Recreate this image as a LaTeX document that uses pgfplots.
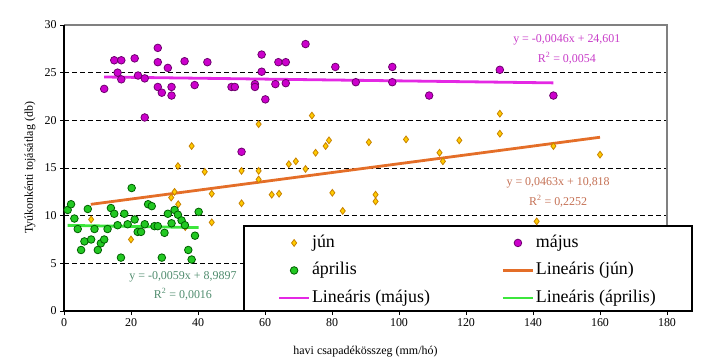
\documentclass[border=0pt]{standalone}
\usepackage{fontspec}
\setmainfont{Liberation Serif}
\usepackage{pgfplots}
\pgfplotsset{compat=1.18}
\definecolor{magfill}{RGB}{204,0,204}
\definecolor{magedge}{RGB}{110,0,110}
\definecolor{magline}{RGB}{228,40,228}
\definecolor{magtext}{RGB}{200,60,200}
\definecolor{junfill}{RGB}{255,204,0}
\definecolor{junedge}{RGB}{200,130,0}
\definecolor{junline}{RGB}{228,110,40}
\definecolor{juntext}{RGB}{196,112,84}
\definecolor{aprfill}{RGB}{34,200,34}
\definecolor{apredge}{RGB}{0,95,0}
\definecolor{aprline}{RGB}{60,230,60}
\definecolor{aprtext}{RGB}{80,140,110}
\begin{document}
\begin{tikzpicture}
\useasboundingbox (-64bp,-51bp) rectangle (639bp,311bp);
\begin{axis}[
  at={(0,0)}, anchor=south west,
  scale only axis, width=603bp, height=286bp,
  xmin=0, xmax=180, ymin=0, ymax=30,
  xtick={0,20,...,180}, ytick={0,5,...,30},
  tick align=outside, tick pos=left, major tick length=4bp,
  every tick/.style={black, line width=0.8bp},
  axis line style={draw=none},
  ymajorgrids, grid style={black, dash pattern=on 5bp off 3bp, line width=0.9bp},
  ticklabel style={font=\fontsize{12}{14}\selectfont},
  /pgf/number format/assume math mode=true,
  xlabel={havi csapadékösszeg (mm/hó)},
  ylabel={Tyúkonkénti tojásátlag (db)},
  every axis x label/.style={at={(axis description cs:0.5,0)}, yshift=-41bp, anchor=center, font=\fontsize{12}{14}\selectfont},
  every axis y label/.style={at={(axis description cs:0,0.5)}, xshift=-34bp, rotate=90, anchor=center, font=\fontsize{12}{14}\selectfont},
  clip=false,
  legend columns=2,
  legend cell align=left,
  legend style={at={(axis description cs:0.3541,0.271)}, anchor=north west,
    draw=none, fill=none, inner sep=0pt,
    font=\fontsize{18}{20}\selectfont,
    row sep=9bp,
    nodes={inner xsep=1.5bp, inner ysep=1bp, text height=12.5bp, text depth=4bp},
    /tikz/every even column/.append style={column sep=70bp}},
  legend image code/.code={\draw[mark repeat=2,mark phase=2,#1] plot coordinates {(0bp,0bp) (15bp,0bp) (30bp,0bp)};},
]
% trend lines (endpoints of the fitted lines)
\addplot[forget plot, junline, line width=2.8bp] coordinates {(8,11.188) (160,18.226)};
\addplot[forget plot, magline, line width=2.8bp] coordinates {(12,24.546) (146.1,23.929)};
\addplot[forget plot, aprline, line width=2.8bp] coordinates {(1.1,8.983) (40.2,8.752)};

\addplot[only marks, mark=diamond*, mark size=3.4bp, mark options={fill=junfill, draw=junedge, line width=0.8bp}] coordinates {
(8.1,9.6)(20.0,7.5)(32.0,11.9)(33.0,12.5)(34.1,11.2)(34.0,15.2)(36.2,8.8)(38.1,17.3)(42.0,14.6)(44.1,12.3)(44.1,9.3)(53.0,11.3)(53.0,14.7)(58.1,19.6)(58.1,14.7)(58.1,13.8)(62.0,12.2)(64.2,12.3)(67.1,15.4)(69.2,15.7)(72.1,14.9)(74.0,20.5)(75.1,16.6)(78.1,17.3)(79.1,17.9)(80.1,12.4)(83.2,10.5)(91.0,17.7)(93.0,12.2)(93.0,11.5)(102.1,18.0)(112.1,16.6)(113.1,15.7)(118.0,17.9)(130.1,20.7)(130.1,18.6)(141.1,9.4)(146.1,17.3)(160.0,16.4)};
\addlegendentry{jún}

\addplot[only marks, mark=*, mark size=3.8bp, mark options={fill=magfill, draw=magedge, line width=0.8bp}] coordinates {
(12.0,23.3)(15.0,26.3)(17.1,26.3)(16.0,25.0)(17.1,24.3)(21.1,26.5)(22.1,24.7)(24.1,24.4)(24.1,20.3)(28.0,27.6)(28.0,26.1)(28.0,23.5)(29.2,22.9)(31.0,25.5)(32.1,23.5)(32.1,22.6)(36.0,26.2)(39.0,23.7)(42.8,26.1)(50.0,23.5)(51.0,23.5)(53.0,16.7)(57.0,23.8)(57.0,23.5)(59.0,26.9)(59.0,25.1)(60.1,22.2)(63.1,23.8)(64.0,26.1)(66.2,26.1)(66.2,23.9)(72.1,28.0)(81.0,25.6)(87.1,24.0)(98.0,25.6)(98.0,24.0)(109.0,22.6)(130.1,25.3)(146.1,22.6)};
\addlegendentry{május}

\addplot[only marks, mark=*, mark size=3.8bp, mark options={fill=aprfill, draw=apredge, line width=0.8bp}] coordinates {
(1.1,10.6)(2.1,11.2)(3.1,9.7)(4.1,8.6)(5.1,6.4)(6.1,7.3)(7.1,10.7)(8.1,7.5)(9.1,8.6)(10.1,6.4)(11.0,7.1)(12.0,7.5)(13.0,8.6)(14.0,10.8)(15.0,10.2)(16.0,9.0)(17.0,5.6)(18.0,10.2)(19.0,9.1)(20.2,12.9)(21.1,9.6)(22.0,8.3)(23.0,8.3)(24.1,9.1)(25.1,11.2)(26.2,11.0)(27.0,8.9)(28.0,8.9)(29.2,5.6)(30.0,8.2)(31.0,10.2)(32.1,9.2)(33.0,10.6)(34.0,10.1)(35.1,9.5)(36.1,9.0)(37.1,6.4)(38.1,5.4)(39.1,7.9)(40.2,10.4)};
\addlegendentry{április}

\addlegendimage{junline, line width=2.8bp}
\addlegendentry{Lineáris (jún)}
\addlegendimage{magline, line width=2.8bp}
\addlegendentry{Lineáris (május)}
\addlegendimage{aprline, line width=2.8bp}
\addlegendentry{Lineáris (április)}

% frame
\draw[gray, line width=1.2bp] (rel axis cs:0,1) -- (rel axis cs:1,1) -- (rel axis cs:1,0);
\draw[black, line width=1.3bp] (rel axis cs:0,1) -- (rel axis cs:0,0) -- (rel axis cs:1,0);
% legend box
\filldraw[fill=white, draw=black, line width=1.2bp] (axis description cs:0.2985,0) rectangle (axis description cs:1.0415,0.297);

% equations
\node[magtext, font=\fontsize{12}{14}\selectfont] at (axis cs:150.1,28.4) {y = -0,0046x + 24,601};
\node[magtext, font=\fontsize{12}{14}\selectfont] at (axis cs:150.1,26.5) {R\textsuperscript{2} = 0,0054};
\node[juntext, font=\fontsize{12}{14}\selectfont] at (axis cs:147.5,13.45) {y = 0,0463x + 10,818};
\node[juntext, font=\fontsize{12}{14}\selectfont] at (axis cs:147.5,11.5) {R\textsuperscript{2} = 0,2252};
\node[aprtext, font=\fontsize{12}{14}\selectfont] at (axis cs:35.5,3.55) {y = -0,0059x + 8,9897};
\node[aprtext, font=\fontsize{12}{14}\selectfont] at (axis cs:35.5,1.76) {R\textsuperscript{2} = 0,0016};
\end{axis}
\end{tikzpicture}
\end{document}
